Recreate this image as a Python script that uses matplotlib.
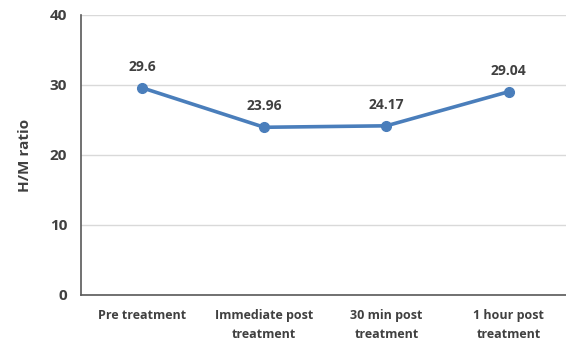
import numpy as np
import matplotlib.pyplot as plt

categories = ['Pre treatment', 'Immediate post\ntreatment', '30 min post\ntreatment', '1 hour post\ntreatment']
values = [29.6, 23.96, 24.17, 29.04]
value_labels = ['29.6', '23.96', '24.17', '29.04']
yticks = [0, 10, 20, 30, 40]

plt.rcParams['font.family'] = ['Open Sans', 'DejaVu Sans']
txt = '#404040'
blue = '#4a7ebb'

fig = plt.figure(figsize=(5.66, 3.43), dpi=100)
ax = fig.add_axes([81/566, 1 - 295/343, (566 - 81)/566 * 1.0, 280/343])

x = np.arange(len(categories))
ax.plot(x, values, color=blue, lw=2.6, marker='o', ms=7, zorder=3)
for xi, v, lab in zip(x, values, value_labels):
    ax.annotate(lab, (xi, v), xytext=(0, 10), textcoords='offset points',
                ha='center', va='bottom', fontsize=10, fontweight='bold', color=txt)

ax.set_xlim(-0.5, 3.47)
ax.set_ylim(0, 40)
ax.set_yticks(yticks)
ax.set_xticks(x)
ax.set_xticklabels(categories, fontsize=9, fontweight='bold', color=txt, linespacing=1.6)
ax.tick_params(axis='x', length=0, pad=10)
ax.tick_params(axis='y', length=0, pad=10, labelsize=11, labelcolor=txt)
for t in ax.get_yticklabels():
    t.set_fontweight('bold')
ax.set_ylabel('H/M ratio', fontsize=11, fontweight='bold', color=txt, labelpad=13)

ax.grid(axis='y', color='#d9d9d9', lw=1)
ax.set_axisbelow(True)
for s in ['top', 'right']:
    ax.spines[s].set_visible(False)
ax.spines['left'].set_color('#595959')
ax.spines['bottom'].set_color('#595959')
ax.spines['left'].set_linewidth(1.2)
ax.spines['bottom'].set_linewidth(1.2)

fig.savefig('out.png', dpi=100)
